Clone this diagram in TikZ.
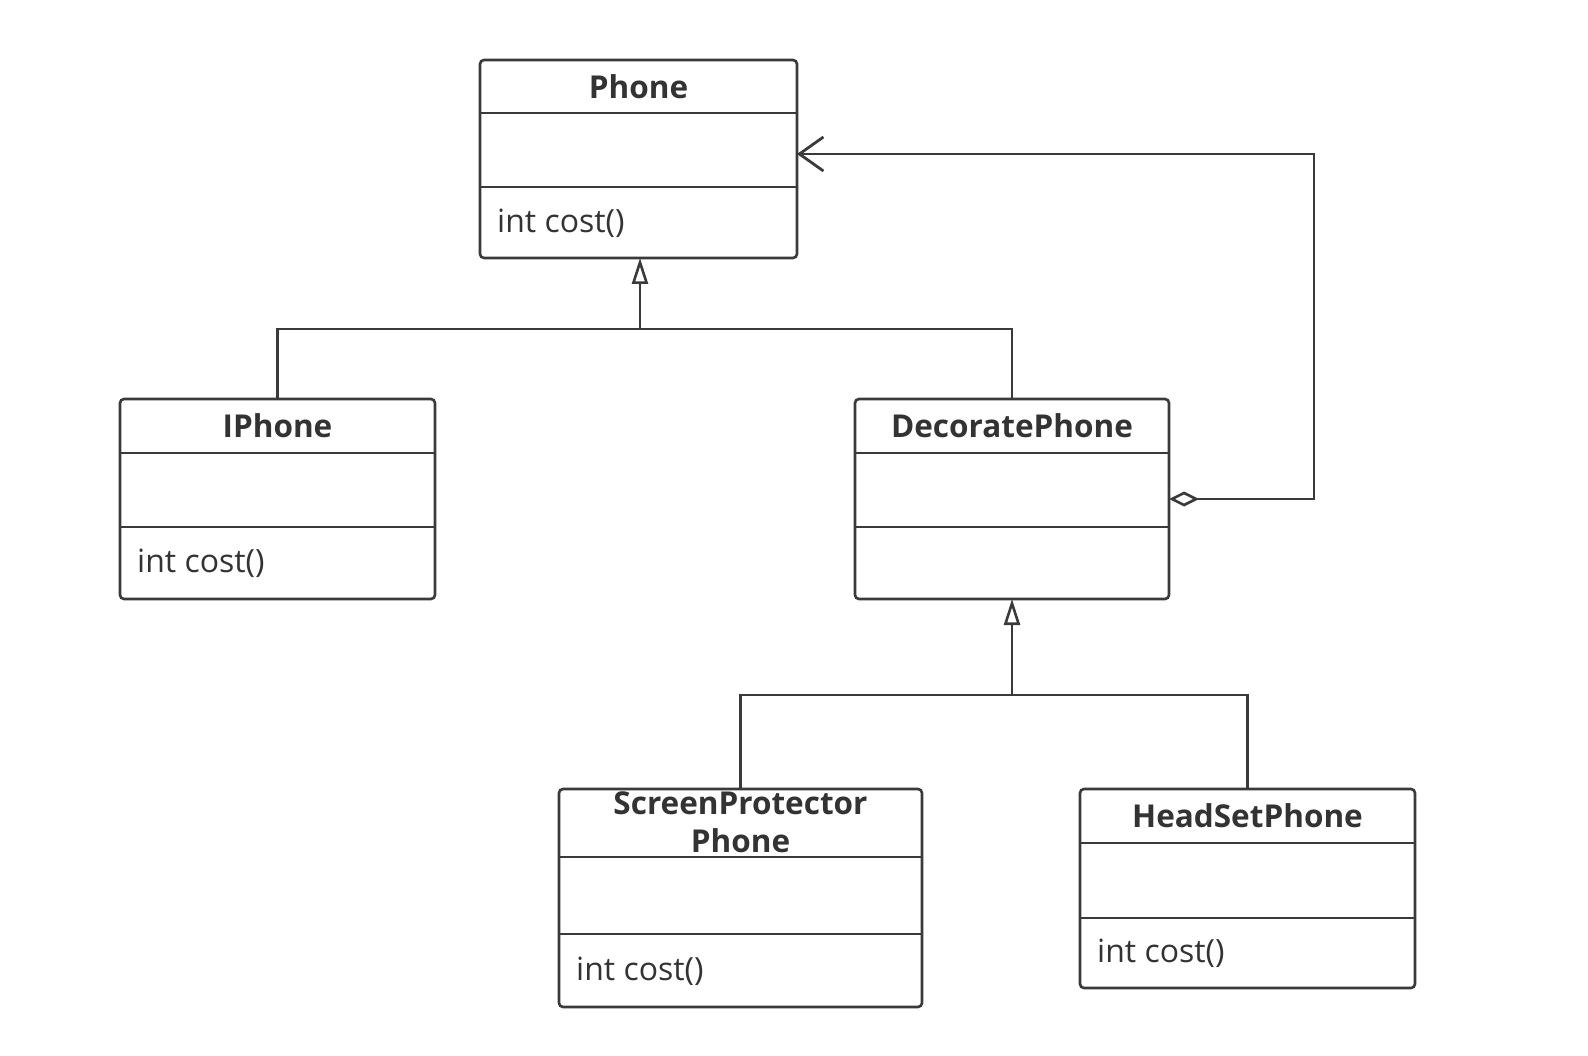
\documentclass[tikz,border=0pt]{standalone}
\usepackage{fontspec}
\setmainfont{Open Sans}
\usetikzlibrary{arrows.meta}
\definecolor{ink}{HTML}{3A3A3A}
\definecolor{txt}{HTML}{333333}
\begin{document}
\begin{tikzpicture}[x=1pt,y=-1pt,
  classbox/.style={draw=ink,line width=2.6pt,rounded corners=4pt,fill=white,outer sep=0pt,inner sep=0pt,anchor=north west},
  sepline/.style={draw=ink,line width=2.6pt},
  titletext/.style={font=\fontsize{31.5}{38}\selectfont\bfseries,text=txt,align=center,inner sep=0pt},
  methtext/.style={font=\fontsize{32}{36}\selectfont,text=txt,anchor=west,inner sep=0pt},
  conn/.style={draw=ink,line width=2.8pt},
  inh/.style={conn,-{Triangle[open,length=26pt,width=16pt,line width=2.6pt]}},
  agg/.style={conn,{Diamond[open,length=30pt,width=15pt,line width=2.6pt]}-{Straight Barb[length=24pt,width=34pt,line width=2.8pt]}}
]
\useasboundingbox (0,0) rectangle (1588,1056);

% Phone
\node[classbox,minimum width=317pt,minimum height=198pt] (phone) at (480,60) {};
\draw[sepline] (phone.west |- 0,113) -- (phone.east |- 0,113);
\draw[sepline] (phone.west |- 0,187) -- (phone.east |- 0,187);
\node[titletext] (phoneT) at (638.5,86.5) {Phone};
\node[methtext] (phoneM) at (497,223) {int cost()};

% IPhone
\node[classbox,minimum width=315pt,minimum height=200pt] (iph) at (120,399) {};
\draw[sepline] (iph.west |- 0,453) -- (iph.east |- 0,453);
\draw[sepline] (iph.west |- 0,527) -- (iph.east |- 0,527);
\node[titletext] (iphT) at (277.5,426) {IPhone};
\node[methtext] (iphM) at (137,563.5) {int cost()};

% DecoratePhone
\node[classbox,minimum width=314pt,minimum height=200pt] (dec) at (855,399) {};
\draw[sepline] (dec.west |- 0,453) -- (dec.east |- 0,453);
\draw[sepline] (dec.west |- 0,527) -- (dec.east |- 0,527);
\node[titletext] (decT) at (1012,426) {DecoratePhone};

% ScreenProtectorPhone
\node[classbox,minimum width=363pt,minimum height=218pt] (scr) at (559,789) {};
\draw[sepline] (scr.west |- 0,857) -- (scr.east |- 0,857);
\draw[sepline] (scr.west |- 0,934) -- (scr.east |- 0,934);
\node[titletext] (scrT) at (740.5,822) {ScreenProtector\\Phone};
\node[methtext] (scrM) at (576,971) {int cost()};

% HeadSetPhone
\node[classbox,minimum width=335pt,minimum height=199pt] (hsp) at (1080,789) {};
\draw[sepline] (hsp.west |- 0,843) -- (hsp.east |- 0,843);
\draw[sepline] (hsp.west |- 0,918) -- (hsp.east |- 0,918);
\node[titletext] (hspT) at (1247.5,816) {HeadSetPhone};
\node[methtext] (hspM) at (1097,953.5) {int cost()};

% generalization to Phone
\coordinate (j1) at (640,329);
\draw[conn] (iph.north) |- (j1) -| (dec.north);
\draw[inh] (j1) -- (phone.south -| j1);

% generalization to DecoratePhone
\coordinate (j2) at (1012,695);
\draw[conn] (scr.north) |- (j2) -| (hsp.north);
\draw[inh] (j2) -- (dec.south);

% aggregation
\coordinate (c2) at (1314,154);
\draw[agg] (dec.east) -| (c2) -- (phone.east |- c2);
\end{tikzpicture}
\end{document}
